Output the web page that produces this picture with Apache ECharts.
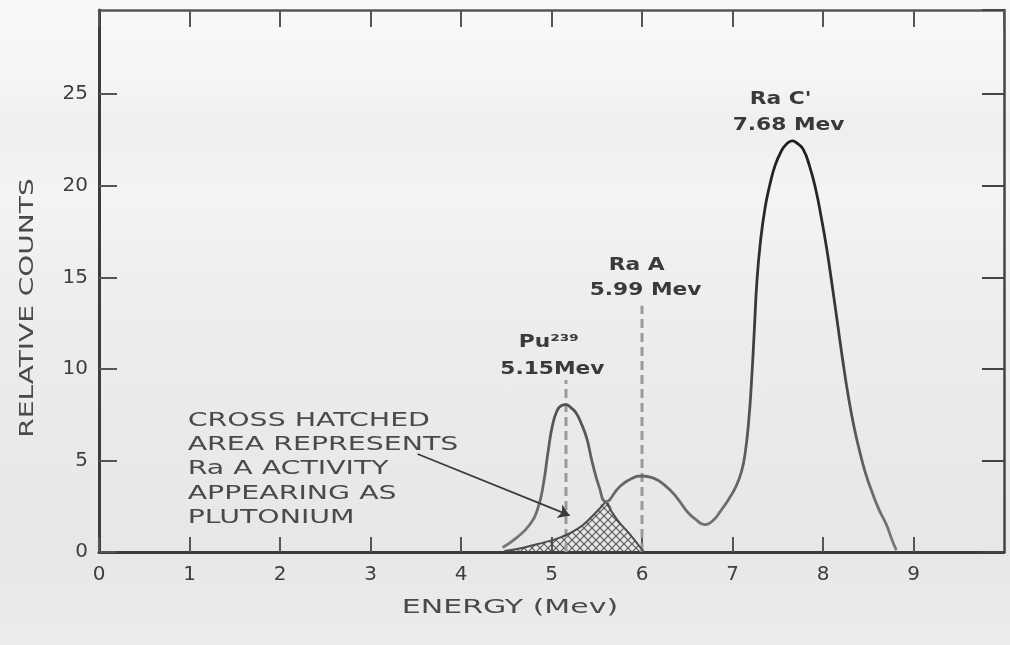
<!DOCTYPE html>
<html><head><meta charset="utf-8">
<script src="https://cdn.jsdelivr.net/npm/echarts@6/dist/echarts.min.js"></script>
<style>
html,body{margin:0;padding:0;}
body{width:1010px;height:645px;overflow:hidden;
background:linear-gradient(to bottom,#f9f9f9 0%,#f5f5f5 12%,#efefef 20%,#f4f4f4 30%,#eeeeee 45%,#eaeaea 65%,#e7e7e7 85%,#ececec 100%);}
#c{width:1010px;height:645px;}
</style></head><body><div id="c"></div>
<script>
// ---- data ----
// Pu-239 peak (5.15 MeV)
const puX = [4.46, 4.62, 4.76, 4.85, 4.91, 4.96, 5.01, 5.06, 5.11, 5.16, 5.21, 5.27, 5.33, 5.39, 5.45, 5.53, 5.60, 5.72, 5.86, 6.02];
const puY = [0.25, 0.8, 1.5, 2.4, 3.7, 5.4, 6.9, 7.7, 8.0, 8.05, 7.9, 7.6, 7.0, 6.2, 4.9, 3.5, 2.75, 1.8, 1.0, 0];
// Ra A peak (5.99 MeV)
const raX = [4.48, 4.70, 4.90, 5.10, 5.30, 5.45, 5.60, 5.75, 5.88, 6.00, 6.12, 6.25, 6.38, 6.50, 6.60, 6.69];
const raY = [0.05, 0.25, 0.5, 0.8, 1.3, 1.95, 2.75, 3.55, 4.0, 4.15, 4.05, 3.65, 3.0, 2.2, 1.75, 1.5];
// Ra C' peak (7.68 MeV)
const racX = [6.69, 6.78, 6.87, 6.96, 7.04, 7.10, 7.14, 7.18, 7.21, 7.24, 7.27, 7.31, 7.36, 7.41, 7.47, 7.54, 7.60, 7.66, 7.72, 7.78, 7.85, 7.92, 7.98, 8.04, 8.10, 8.16, 8.22, 8.28, 8.34, 8.40, 8.47, 8.54, 8.62, 8.70, 8.76, 8.81];
const racY = [1.5, 1.7, 2.25, 2.9, 3.6, 4.4, 5.4, 7.2, 9.3, 12.0, 14.8, 17.0, 18.8, 20.0, 21.1, 21.9, 22.3, 22.45, 22.3, 22.0, 21.1, 19.8, 18.3, 16.6, 14.6, 12.5, 10.4, 8.5, 6.9, 5.6, 4.3, 3.3, 2.3, 1.5, 0.7, 0.1];
const crossX = 5.60;            // where Pu and Ra A curves cross
const markerX = [5.16, 6.0];    // dashed peak markers
const markerTop = [9.4, 13.45];
const arrowFrom = [3.52, 5.35];
const arrowTo = [5.2, 2.0];
const peakLabels = ['Pu²³⁹', '5.15Mev', 'Ra A', '5.99 Mev', "Ra C'", '7.68 Mev'];
const noteLines = ['CROSS HATCHED', 'AREA REPRESENTS', 'Ra A ACTIVITY', 'APPEARING AS', 'PLUTONIUM'];
const xTitle = 'ENERGY (Mev)';
const yTitle = 'RELATIVE COUNTS';

// ---- layout (annotation anchors in data units) ----
const peakLabelPos = [[4.97, 11.42], [5.01, 9.95], [5.94, 15.63], [6.04, 14.3], [7.53, 24.7], [7.62, 23.3]];
const noteLeft = 0.98;
const noteYs = [7.16, 5.85, 4.54, 3.17, 1.86];

function pts(xs, ys, test) { const o = []; xs.forEach((x, i) => { if (test(x)) o.push([x, ys[i]]); }); return o; }
const envelope = pts(puX, puY, x => x <= crossX)
  .concat(pts(raX, raY, x => x > crossX && x < racX[0]))
  .concat(pts(racX, racY, () => true));
const raTail = pts(raX, raY, x => x <= crossX);
const puTail = pts(puX, puY, x => x >= crossX);
const hatch = raTail.concat(pts(puX, puY, x => x > crossX));

// cross-hatch pattern
const pc = document.createElement('canvas'); pc.width = 8; pc.height = 8;
const g = pc.getContext('2d');
g.strokeStyle = 'rgba(70,70,70,0.9)'; g.lineWidth = 1.1;
g.beginPath(); g.moveTo(0, 0); g.lineTo(8, 8); g.moveTo(8, 0); g.lineTo(0, 8); g.stroke();

const ink = '#3c3c3c';
const SM = 0.5;
const chart = echarts.init(document.getElementById('c'), null, {renderer: 'canvas'});
const axisCommon = {
  type: 'value', splitLine: {show: false},
  axisLine: {show: true, onZero: false, lineStyle: {color: ink, width: 3}},
  axisTick: {show: true, inside: true, length: 15, lineStyle: {color: '#555', width: 2}}
};
const option = {
  animation: false,
  backgroundColor: 'transparent',
  grid: {left: 99, right: 6, top: 10, bottom: 93},
  xAxis: [
    Object.assign({}, axisCommon, {min: 0, max: 10, interval: 1, position: 'bottom',
      axisLabel: {show: true, fontSize: 20, color: '#3e3e3e', margin: 13, fontFamily: 'DejaVu Sans', showMaxLabel: false}}),
    Object.assign({}, axisCommon, {min: 0, max: 10, interval: 1, position: 'top',
      axisLine: {show: true, onZero: false, lineStyle: {color: '#555', width: 2.5}},
      axisTick: {show: true, inside: true, length: 17, lineStyle: {color: '#555', width: 2}},
      axisLabel: {show: false}})
  ],
  yAxis: [
    Object.assign({}, axisCommon, {min: 0, max: 29.6, interval: 5, position: 'left',
      axisTick: {show: true, inside: true, length: 18, lineStyle: {color: '#555', width: 2}},
      axisLabel: {show: true, fontSize: 20, color: '#3e3e3e', margin: 11, fontFamily: 'DejaVu Sans', showMaxLabel: false}}),
    Object.assign({}, axisCommon, {min: 0, max: 29.6, interval: 5, position: 'right',
      axisLine: {show: true, onZero: false, lineStyle: {color: '#444', width: 2.5}},
      axisTick: {show: true, inside: true, length: 22, lineStyle: {color: '#444', width: 2}},
      axisLabel: {show: false}})
  ],
  series: [
    {type: 'line', data: hatch, smooth: SM, symbol: 'none', z: 1,
     lineStyle: {width: 0}, areaStyle: {color: {image: pc, repeat: 'repeat'}, opacity: 1}},
    {type: 'line', data: [[markerX[0], 0], [markerX[0], markerTop[0]]], symbol: 'none', z: 2,
     lineStyle: {color: '#9a9a9a', width: 3, type: [9, 5]}},
    {type: 'line', data: [[markerX[1], 0], [markerX[1], markerTop[1]]], symbol: 'none', z: 2,
     lineStyle: {color: '#9a9a9a', width: 3, type: [9, 5]}},
    {type: 'line', data: raTail, smooth: SM, symbol: 'none', z: 3,
     lineStyle: {color: '#4a4a4a', width: 2},
     markLine: {silent: true, symbol: ['none', 'arrow'], symbolSize: 11, label: {show: false},
       lineStyle: {color: '#3a3a3a', width: 1.8, type: 'solid'},
       data: [[{coord: arrowFrom}, {coord: arrowTo}]]}},
    {type: 'line', data: puTail, smooth: SM, symbol: 'none', z: 3,
     lineStyle: {color: '#4a4a4a', width: 2}},
    {type: 'line', data: envelope, smooth: SM, symbol: 'none', z: 4,
     lineStyle: {width: 2.8, color: {type: 'linear', x: 0, y: 0, x2: 0, y2: 1,
       colorStops: [{offset: 0, color: '#1e1e1e'}, {offset: 0.45, color: '#3a3a3a'}, {offset: 1, color: '#7a7a7a'}]}}}
  ]
};
chart.setOption(option);

const P = (x, y) => chart.convertToPixel({xAxisIndex: 0, yAxisIndex: 0}, [x, y]);
const gfx = [];
peakLabels.forEach((t, i) => {
  const p = P(peakLabelPos[i][0], peakLabelPos[i][1]);
  gfx.push({type: 'text', x: p[0], y: p[1], scaleX: 1.28, silent: true,
    style: {text: t, fontSize: 17, fontWeight: 'bold', fontFamily: 'DejaVu Sans', fill: '#3a3a3a',
      align: 'center', verticalAlign: 'middle', textAlign: 'center', textVerticalAlign: 'middle'}});
});
noteLines.forEach((t, i) => {
  const p = P(noteLeft, noteYs[i]);
  gfx.push({type: 'text', x: p[0], y: p[1], scaleX: 1.42, silent: true,
    style: {text: t, fontSize: 20, fontFamily: 'DejaVu Sans', fill: '#4a4a4a',
      align: 'left', verticalAlign: 'middle', textAlign: 'left', textVerticalAlign: 'middle'}});
});
gfx.push({type: 'text', x: 510, y: 608, scaleX: 1.5, silent: true,
  style: {text: xTitle, fontSize: 20, fontFamily: 'DejaVu Sans', fill: '#4a4a4a',
    align: 'center', verticalAlign: 'middle', textAlign: 'center', textVerticalAlign: 'middle'}});
gfx.push({type: 'text', x: 28, y: 308, rotation: Math.PI / 2, scaleX: 1.4, silent: true,
  style: {text: yTitle, fontSize: 20, fontFamily: 'DejaVu Sans', fill: '#4a4a4a',
    align: 'center', verticalAlign: 'middle', textAlign: 'center', textVerticalAlign: 'middle'}});
chart.setOption({graphic: {elements: gfx}});
</script></body></html>
